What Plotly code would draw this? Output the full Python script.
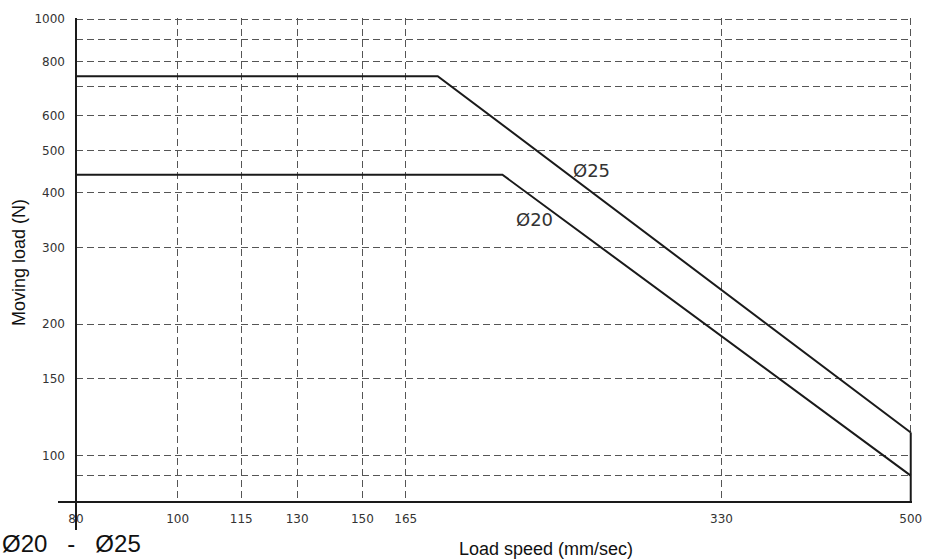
import numpy as np
import plotly.graph_objects as go

# ---- data ----
speed_25 = [80, 177, 500]
load_25 = [740, 740, 113]
speed_20 = [80, 204, 500]
load_20 = [440, 440, 90]

x_ticks = [80, 100, 115, 130, 150, 165, 330, 500]
y_ticks = [100, 150, 200, 300, 400, 500, 600, 800, 1000]
y_minor = [90, 700, 900]

label_25 = ("Ø25", 248, 451)
label_20 = ("Ø20", 219, 347)

W, H = 941, 560
L, R, T, B = 76, 29, 16, 58
pw, ph = W - L - R, H - T - B

fig = go.Figure()
line_style = dict(color="#1a1a1a", width=2)
fig.add_trace(go.Scatter(x=speed_25, y=load_25, mode="lines", line=line_style,
                         showlegend=False, hoverinfo="skip"))
fig.add_trace(go.Scatter(x=speed_20, y=load_20, mode="lines", line=line_style,
                         showlegend=False, hoverinfo="skip"))
# solid right edge segment under the Ø25 end
fig.add_trace(go.Scatter(x=[speed_25[-1], speed_25[-1]], y=[78.3, load_25[-1]], mode="lines",
                         line=line_style, showlegend=False, hoverinfo="skip"))

grid = dict(showgrid=True, gridcolor="#555555", gridwidth=1, griddash="7px,4px")

fig.update_xaxes(type="log", range=[np.log10(80), np.log10(500) + 0.0012],
                 tickvals=x_ticks, ticktext=[str(v) for v in x_ticks],
                 ticks="", showline=False, zeroline=False,
                 ticklabelstandoff=8,
                 tickfont=dict(family="DejaVu Sans", size=12, color="#333333"),
                 **grid)
fig.update_yaxes(type="log", range=[np.log10(78.3), 3.0025],
                 tickvals=y_ticks, ticktext=[str(v) for v in y_ticks],
                 ticks="", showline=False, zeroline=False,
                 ticklabelstandoff=10,
                 tickfont=dict(family="DejaVu Sans", size=12, color="#333333"),
                 minor=dict(tickvals=y_minor, showgrid=True, gridcolor="#555555",
                            gridwidth=1, griddash="7px,4px", ticks=""),
                 **grid)

def px_x(p):
    return (p - L) / pw

def px_y(p):
    return (H - B - p) / ph

shapes = [
    dict(type="line", xref="paper", yref="paper", x0=px_x(58), x1=1.0, y0=0, y1=0,
         line=dict(color="#1a1a1a", width=2)),
    dict(type="line", xref="paper", yref="paper", x0=0, x1=0, y0=px_y(530), y1=1.0,
         line=dict(color="#1a1a1a", width=2)),
]

annotations = []
for txt, xv, yv in (label_25, label_20):
    annotations.append(dict(x=np.log10(xv), y=np.log10(yv), xref="x", yref="y", text=txt,
                            showarrow=False, font=dict(family="DejaVu Sans", size=18, color="#333333")))
annotations += [
    dict(x=px_x(546), y=px_y(549), xref="paper", yref="paper", text="Load speed (mm/sec)",
         showarrow=False, xanchor="center", yanchor="middle",
         font=dict(family="Liberation Sans, Arial", size=18, color="#111111")),
    dict(x=px_x(19), y=px_y(262), xref="paper", yref="paper", text="Moving load (N)",
         showarrow=False, textangle=-90, xanchor="center", yanchor="middle",
         font=dict(family="Liberation Sans, Arial", size=18, color="#111111")),
    dict(x=px_x(0), y=px_y(544), xref="paper", yref="paper",
         text="Ø20&nbsp;&nbsp;&nbsp;-&nbsp;&nbsp;&nbsp;Ø25",
         showarrow=False, xanchor="left", yanchor="middle",
         font=dict(family="Liberation Sans, Arial", size=24, color="#111111")),
]

fig.update_layout(width=W, height=H, margin=dict(l=L, r=R, t=T, b=B),
                  paper_bgcolor="white", plot_bgcolor="white",
                  shapes=shapes, annotations=annotations, showlegend=False)

fig.write_html("out.html", post_script="document.body.style.margin='0px';",
               config={"displayModeBar": False})
